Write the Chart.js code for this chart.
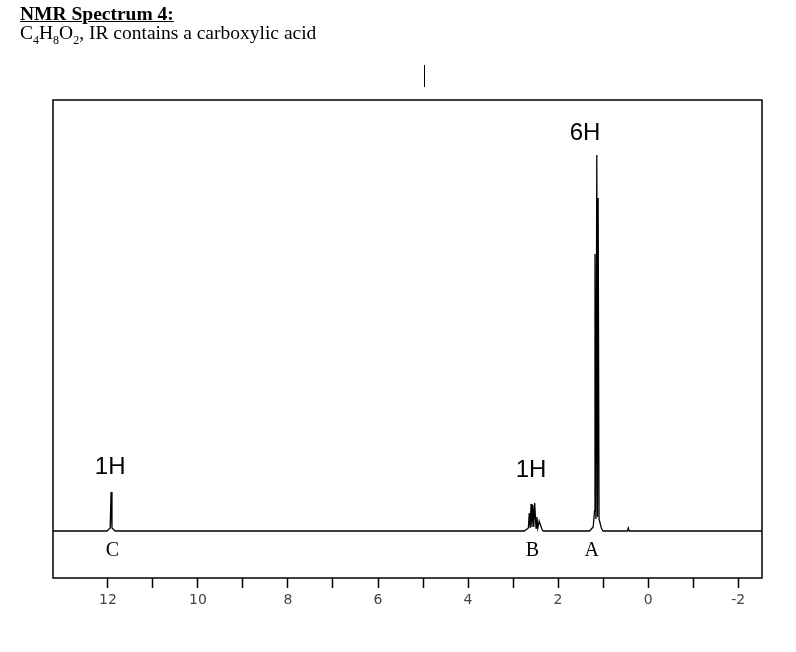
<!DOCTYPE html>
<html>
<head>
<meta charset="utf-8">
<script src="https://cdn.jsdelivr.net/npm/chart.js@4"></script>
<style>
  html, body { margin: 0; padding: 0; background: #fff; }
  #wrap { width: 796px; height: 652px; position: relative; }
  .title { position: absolute; left: 20px; top: 4px; font-family: "Liberation Serif", serif; font-size: 19.5px; line-height: 19px; color: #000; }
  .title b { text-decoration: underline; }
  .title sub { font-size: 12px; line-height: 0; }
</style>
</head>
<body>
<div id="wrap">
  <div class="title"><b>NMR Spectrum 4:</b><br>C<sub>4</sub>H<sub>8</sub>O<sub>2</sub>, IR contains a carboxylic acid</div>
  <canvas id="nmr" width="796" height="652"></canvas>
</div>
<script>
// chemical shift (ppm) and intensity of the trace
const shifts = [13.22, 12.02, 11.95, 11.93, 11.91, 11.84,
                2.75, 2.66, 2.64, 2.62, 2.60, 2.58, 2.56, 2.54, 2.52, 2.49, 2.47, 2.45, 2.42, 2.36, 2.33,
                1.30, 1.22, 1.19, 1.18, 1.16, 1.14, 1.125, 1.11, 1.09, 1.04, 1.0,
                0.46, 0.44, 0.42, 0.40, -2.53];
const intensity = [0, 0, 3, 39, 3, 0,
                   0, 3, 18, 3, 27, 4, 26, 4, 28, 3, 14, 3, 10, 2, 0,
                   0, 4, 20, 277, 12, 376, 14, 333, 12, 3, 0,
                   0, 3, 0, 0, 0];
const tickValues = [12, 11, 10, 9, 8, 7, 6, 5, 4, 3, 2, 1, 0, -1, -2];
const peakLabels = [
  { text: "C", ppm: 11.9 },
  { text: "B", ppm: 2.57 },
  { text: "A", ppm: 1.25 }
];
const integrals = [
  { text: "1H", ppm: 11.95, y: 467 },
  { text: "1H", ppm: 2.6, y: 470 },
  { text: "6H", ppm: 1.4, y: 133 }
];

const points = shifts.map((s, i) => ({ x: s, y: intensity[i] }));

const decor = {
  id: "decor",
  afterDraw(chart) {
    const { ctx, chartArea: a, scales: { x } } = chart;
    ctx.save();
    ctx.strokeStyle = "#000";
    ctx.lineWidth = 1.5;
    ctx.strokeRect(a.left, a.top, a.right - a.left, a.bottom - a.top);
    // stray cursor mark
    ctx.lineWidth = 1;
    ctx.beginPath();
    ctx.moveTo(424.5, 65);
    ctx.lineTo(424.5, 87);
    ctx.stroke();
    ctx.fillStyle = "#000";
    ctx.textAlign = "center";
    ctx.textBaseline = "middle";
    ctx.font = "20px 'Liberation Serif'";
    peakLabels.forEach(p => ctx.fillText(p.text, x.getPixelForValue(p.ppm), 551));
    ctx.font = "24px 'Liberation Sans'";
    integrals.forEach(p => ctx.fillText(p.text, x.getPixelForValue(p.ppm), p.y));
    ctx.restore();
  }
};

new Chart(document.getElementById("nmr"), {
  type: "line",
  data: {
    datasets: [{
      data: points,
      borderColor: "#000",
      borderWidth: 1.3,
      pointRadius: 0,
      tension: 0
    }]
  },
  options: {
    responsive: false,
    animation: false,
    layout: { padding: { left: 53, right: 34, top: 100, bottom: 0 } },
    plugins: { legend: { display: false }, tooltip: { enabled: false } },
    scales: {
      x: {
        type: "linear",
        reverse: true,
        min: -2.53,
        max: 13.22,
        afterFit(s) { s.height = 74; },
        afterBuildTicks(s) { s.ticks = tickValues.map(v => ({ value: v })); },
        border: { display: false },
        grid: { drawOnChartArea: false, tickLength: 10, color: "#000", tickWidth: 1.5 },
        ticks: {
          autoSkip: false,
          maxRotation: 0,
          padding: 4,
          color: "#444",
          font: { family: "DejaVu Sans", size: 14 },
          callback: v => (v % 2 === 0 ? String(v) : "")
        }
      },
      y: { display: false, min: -47, max: 431 }
    }
  },
  plugins: [decor]
});
</script>
</body>
</html>
